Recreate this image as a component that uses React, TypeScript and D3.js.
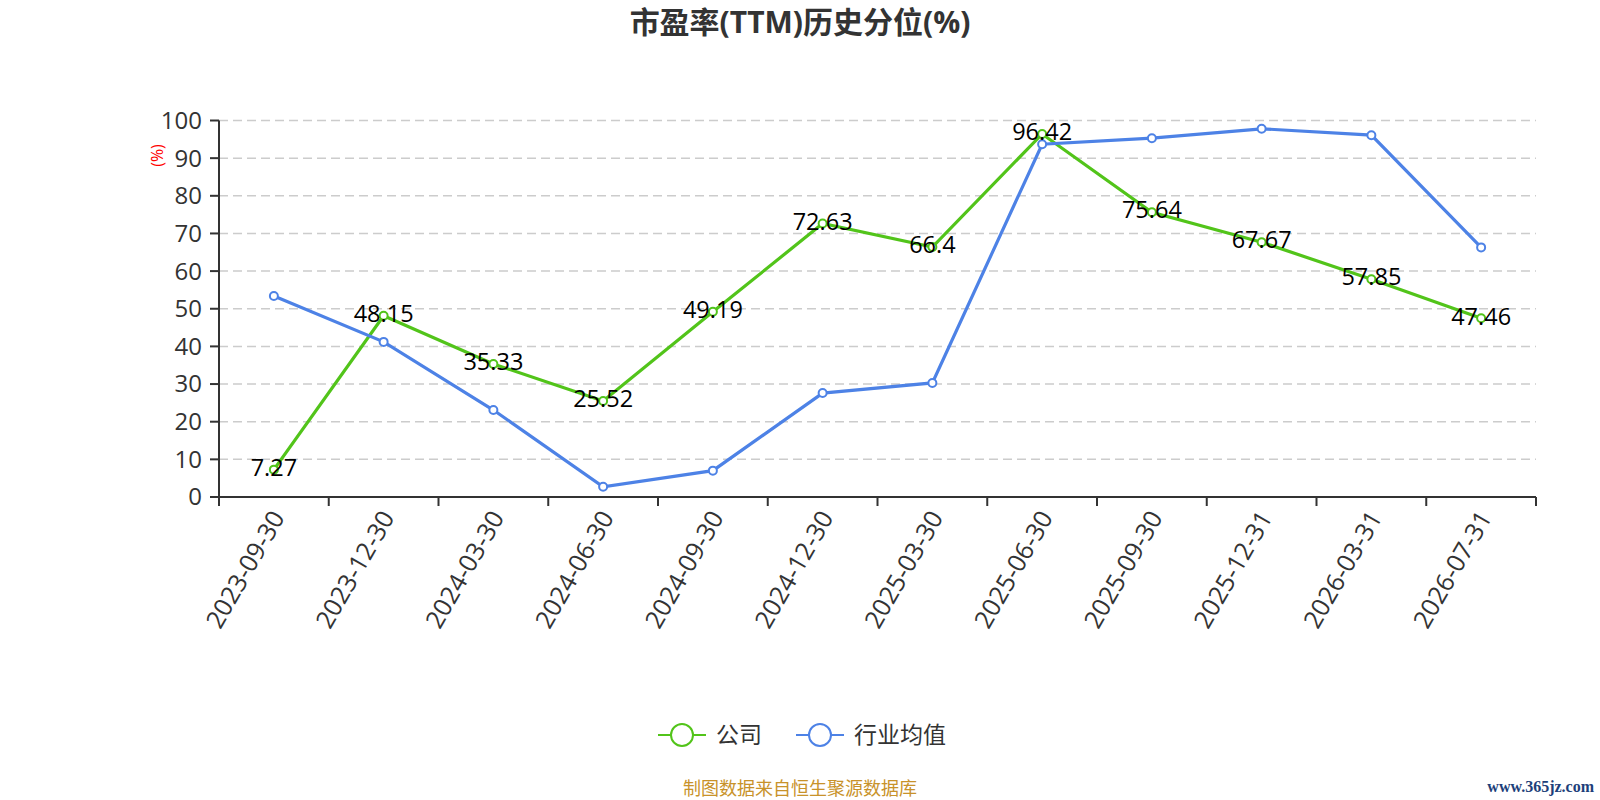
import React from "react";
import * as d3 from "d3";

const dates = [
  "2023-09-30", "2023-12-30", "2024-03-30", "2024-06-30", "2024-09-30", "2024-12-30",
  "2025-03-30", "2025-06-30", "2025-09-30", "2025-12-31", "2026-03-31", "2026-07-31",
];
const company = [7.27, 48.15, 35.33, 25.52, 49.19, 72.63, 66.4, 96.42, 75.64, 67.67, 57.85, 47.46];
const industry = [53.4, 41.2, 23.1, 2.7, 7.0, 27.6, 30.3, 93.7, 95.3, 97.8, 96.1, 66.3];
const yTicks = [0, 10, 20, 30, 40, 50, 60, 70, 80, 90, 100];

const GREEN = "#52c41a";
const BLUE = "#4d82e6";
const FONT = "'Open Sans', 'Noto Sans CJK SC', sans-serif";

const App = () => {
  const W = 1600;
  const H = 800;
  const margin = { top: 120.5, right: 64, bottom: 303, left: 219 };
  const innerW = W - margin.left - margin.right;
  const innerH = H - margin.top - margin.bottom;

  const x = d3.scaleBand().domain(dates).range([0, innerW]);
  const y = d3.scaleLinear().domain([0, 100]).range([innerH, 0]);
  const cx = (d: string) => (x(d) as number) + x.bandwidth() / 2;

  const line = d3
    .line<number>()
    .x((d, i) => cx(dates[i]))
    .y((d) => y(d));

  const series = [
    { name: "公司", values: company, color: GREEN },
    { name: "行业均值", values: industry, color: BLUE },
  ];

  return (
    <svg width={W} height={H} style={{ position: "absolute", left: 0, top: 0, fontFamily: FONT }}>
      <rect width={W} height={H} fill="#fff" />
      <text x={W / 2} y={33} textAnchor="middle" fontSize={30} fontWeight="bold" fill="#333">
        市盈率(TTM)历史分位(%)
      </text>

      <g transform={`translate(${margin.left},${margin.top})`}>
        {yTicks.map((t) => (
          <g key={t}>
            {t > 0 && (
              <line x1={0} x2={innerW} y1={y(t)} y2={y(t)} stroke="#ccc" strokeWidth={1.5} strokeDasharray="9,5" />
            )}
            <line x1={-9} x2={0} y1={y(t)} y2={y(t)} stroke="#333" strokeWidth={2} />
            <text x={-17} y={y(t)} dy="0.35em" textAnchor="end" fontSize={24} fill="#333">
              {t}
            </text>
          </g>
        ))}
        <line x1={0} x2={0} y1={0} y2={innerH} stroke="#333" strokeWidth={2} />
        <text
          transform={`translate(${-62},${35}) rotate(-90)`}
          textAnchor="middle"
          dy="0.35em"
          fontSize={16}
          fill="red"
        >
          (%)
        </text>

        <line x1={0} x2={innerW} y1={innerH} y2={innerH} stroke="#333" strokeWidth={2} />
        {d3.range(dates.length + 1).map((i) => (
          <line
            key={i}
            x1={i * x.bandwidth()}
            x2={i * x.bandwidth()}
            y1={innerH}
            y2={innerH + 9}
            stroke="#333"
            strokeWidth={2}
          />
        ))}
        {dates.map((d) => (
          <text
            key={d}
            transform={`translate(${cx(d) + 4},${innerH + 16}) rotate(-60)`}
            textAnchor="end"
            dy="0.35em"
            fontSize={25}
            fill="#333"
          >
            {d}
          </text>
        ))}

        {series.map((s) => (
          <g key={s.name}>
            <path d={line(s.values) as string} fill="none" stroke={s.color} strokeWidth={3.2} />
            {s.values.map((v, i) => (
              <circle key={i} cx={cx(dates[i])} cy={y(v)} r={4} fill="#fff" stroke={s.color} strokeWidth={2} />
            ))}
          </g>
        ))}
        {company.map((v, i) => (
          <text key={i} x={cx(dates[i])} y={y(v) - 2} dy="0.35em" textAnchor="middle" fontSize={23.5} fill="#000">
            {v}
          </text>
        ))}
      </g>

      <g transform="translate(0,735)">
        {series.map((s, i) => {
          const lx = i === 0 ? 658 : 796;
          return (
            <g key={s.name}>
              <line x1={lx} x2={lx + 48} y1={0} y2={0} stroke={s.color} strokeWidth={2} />
              <circle cx={lx + 24} cy={0} r={11} fill="#fff" stroke={s.color} strokeWidth={2} />
              <text x={lx + 58} y={0} dy="0.35em" fontSize={23} fill="#333">
                {s.name}
              </text>
            </g>
          );
        })}
      </g>

      <text x={800} y={789} dy="0.35em" textAnchor="middle" fontSize={18} fill="#c8922a">
        制图数据来自恒生聚源数据库
      </text>
      <text
        x={1594}
        y={786}
        dy="0.35em"
        textAnchor="end"
        fontSize={16}
        fontWeight="bold"
        fill="#1d3f7a"
        fontFamily="'Liberation Serif', serif"
      >
        www.365jz.com
      </text>
    </svg>
  );
};

export default App;
